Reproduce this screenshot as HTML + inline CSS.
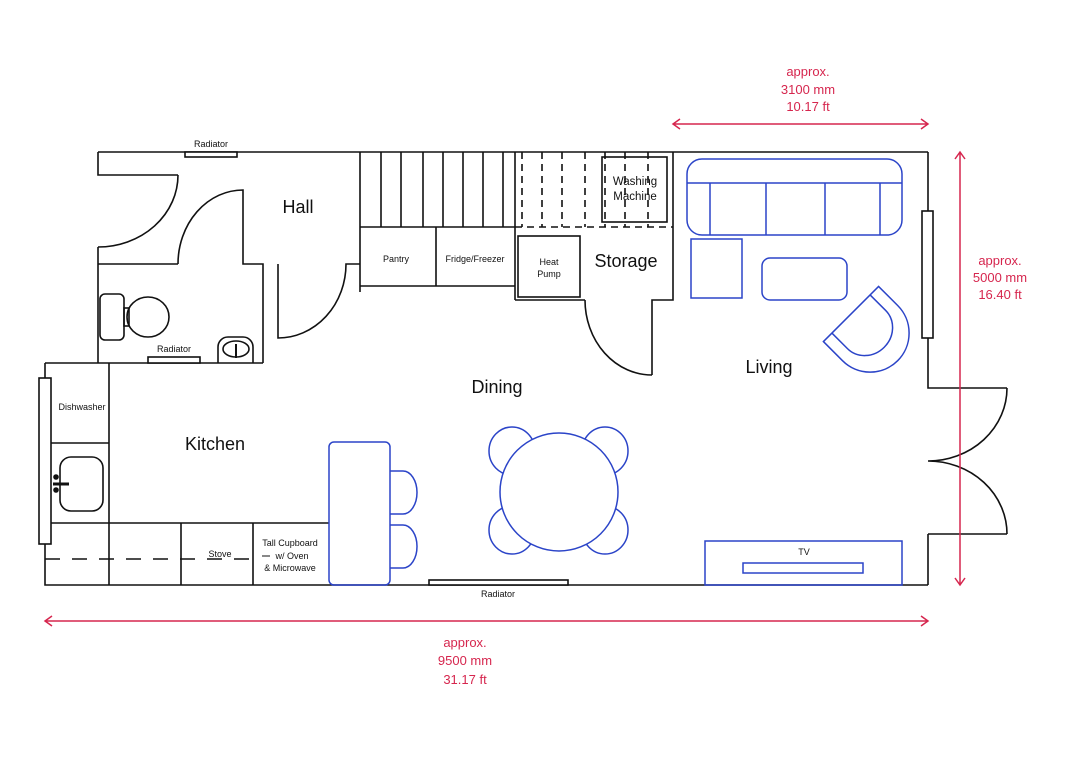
<!DOCTYPE html>
<html><head><meta charset="utf-8"><style>
html,body{margin:0;padding:0;background:#fff;}
svg{display:block;}
text{font-family:"Liberation Sans",sans-serif;}
</style></head><body>
<svg width="1080" height="764" viewBox="0 0 1080 764" xmlns="http://www.w3.org/2000/svg">
<g fill="none" stroke="#111" stroke-width="1.6">
<path d="M98,152 H928"/>
<rect x="185" y="152" width="52" height="5" fill="#fff"/>
<path d="M98,152 V175 H178"/>
<path d="M178,175 A80,72 0 0 1 98,247"/>
<path d="M98,247 V363"/>
<path d="M98,264 H178"/>
<path d="M178,264 A65,74 0 0 1 243,190 V264 H263 V363"/>
<path d="M45,363 H263"/>
<rect x="100" y="294" width="24" height="46" rx="5"/>
<rect x="124" y="308" width="5" height="18"/>
<ellipse cx="148" cy="317" rx="21" ry="20"/>
<rect x="148" y="357" width="52" height="6" fill="#fff"/>
<path d="M218,363 V347 A10,10 0 0 1 228,337 H243 A10,10 0 0 1 253,347 V363"/>
<ellipse cx="236" cy="349" rx="13" ry="8"/>
<path d="M236,344 V358" stroke-width="2"/>
<path d="M278,264 V338 A68,74 0 0 0 346,264 H360"/>
<path d="M360,152 V292"/>
<path d="M360,227 H515 M381,152V227 M401,152V227 M423,152V227 M443,152V227 M463,152V227 M483,152V227 M503,152V227 M515,152V300"/>
<path d="M522,152V227 M542,152V227 M562,152V227 M585,152V227 M605,152V227 M625,152V227 M648,152V227 M515,227H673" stroke-dasharray="7,5"/>
<rect x="602" y="157" width="65" height="65"/>
<path d="M360,286 H515 M436,227 V286"/>
<path d="M673,152 V300 H652 V375 M515,300 H585"/>
<path d="M585,300 A67,75 0 0 0 652,375"/>
<rect x="518" y="236" width="62" height="61"/>
<path d="M45,363 V585 H928 M109,363 V585 M45,443 H109 M45,523 H329 M181,523 V585 M253,523 V585"/>
<rect x="39" y="378" width="12" height="166" fill="#fff"/>
<path d="M45,559 H255" stroke-dasharray="15,12"/>
<rect x="60" y="457" width="43" height="54" rx="11"/>
<path d="M53,484 H69" stroke-width="3"/>
<circle cx="56" cy="477" r="2" fill="#111"/><circle cx="56" cy="490" r="2" fill="#111"/>
<rect x="429" y="580" width="139" height="5" fill="#fff"/>
<path d="M928,152 V388 H1007 M928,534 H1007 M928,534 V585"/>
<rect x="922" y="211" width="11" height="127" fill="#fff"/>
<path d="M1007,388 A79,73 0 0 1 928,461 A79,73 0 0 1 1007,534"/>
</g>
<g fill="none" stroke="#2b44c8" stroke-width="1.5">
<rect x="329" y="442" width="61" height="143" rx="5"/>
<path d="M390,471 H403 A14,21.5 0 0 1 403,514 H390 M390,525 H403 A14,21.5 0 0 1 403,568 H390"/>
<rect x="687" y="159" width="215" height="76" rx="15"/>
<path d="M687,183 H902 M710,183V235 M766,183V235 M825,183V235 M880,183V235"/>
<rect x="691" y="239" width="51" height="59"/>
<rect x="762" y="258" width="85" height="42" rx="8"/>
<g transform="translate(851,314) rotate(-45)">
<path d="M-39,0 H39 V27 A39,39 0 0 1 -39,27 Z"/>
<path d="M-27,0 V22 A27,25 0 0 0 27,22 V0"/>
</g>
<ellipse cx="512" cy="451" rx="23" ry="24" fill="#fff"/>
<ellipse cx="512" cy="530" rx="23" ry="24" fill="#fff"/>
<ellipse cx="605" cy="451" rx="23" ry="24" fill="#fff"/>
<ellipse cx="605" cy="530" rx="23" ry="24" fill="#fff"/>
<circle cx="559" cy="492" r="59" fill="#fff"/>
<rect x="705" y="541" width="197" height="44"/>
<rect x="743" y="563" width="120" height="10"/>
</g>
<g fill="#111" text-anchor="middle">
<text x="211" y="147" font-size="9">Radiator</text>
<text x="174" y="352" font-size="9">Radiator</text>
<text x="498" y="597" font-size="9">Radiator</text>
<text x="298" y="213" font-size="18">Hall</text>
<text x="626" y="267" font-size="18">Storage</text>
<text x="497" y="393" font-size="18">Dining</text>
<text x="215" y="450" font-size="18">Kitchen</text>
<text x="769" y="373" font-size="18">Living</text>
<text x="396" y="262" font-size="9">Pantry</text>
<text x="475" y="262" font-size="9">Fridge/Freezer</text>
<text x="549" y="265" font-size="9">Heat</text>
<text x="549" y="277" font-size="9">Pump</text>
<text x="635" y="185" font-size="11.5">Washing</text>
<text x="635" y="200" font-size="11.5">Machine</text>
<text x="82" y="410" font-size="9">Dishwasher</text>
<text x="220" y="557" font-size="9">Stove</text>
<text x="290" y="546" font-size="9">Tall Cupboard</text>
<text x="292" y="559" font-size="9">w/ Oven</text>
<text x="290" y="571" font-size="9">&amp; Microwave</text>
<text x="804" y="555" font-size="9">TV</text>
</g>
<path d="M262,556H270" stroke="#111" stroke-width="1"/>
<g stroke="#d6264e" stroke-width="1.5" fill="none">
<path d="M673,124 H928 M680,119 L673,124 L680,129 M921,119 L928,124 L921,129"/>
<path d="M960,152 V585 M955,159 L960,152 L965,159 M955,578 L960,585 L965,578"/>
<path d="M45,621 H928 M52,616 L45,621 L52,626 M921,616 L928,621 L921,626"/>
</g>
<g fill="#d6264e" text-anchor="middle" font-size="13">
<text x="808" y="76">approx.</text>
<text x="808" y="94">3100 mm</text>
<text x="808" y="111">10.17 ft</text>
<text x="1000" y="265">approx.</text>
<text x="1000" y="282">5000 mm</text>
<text x="1000" y="299">16.40 ft</text>
<text x="465" y="647">approx.</text>
<text x="465" y="665">9500 mm</text>
<text x="465" y="684">31.17 ft</text>
</g>
</svg>
</body></html>
